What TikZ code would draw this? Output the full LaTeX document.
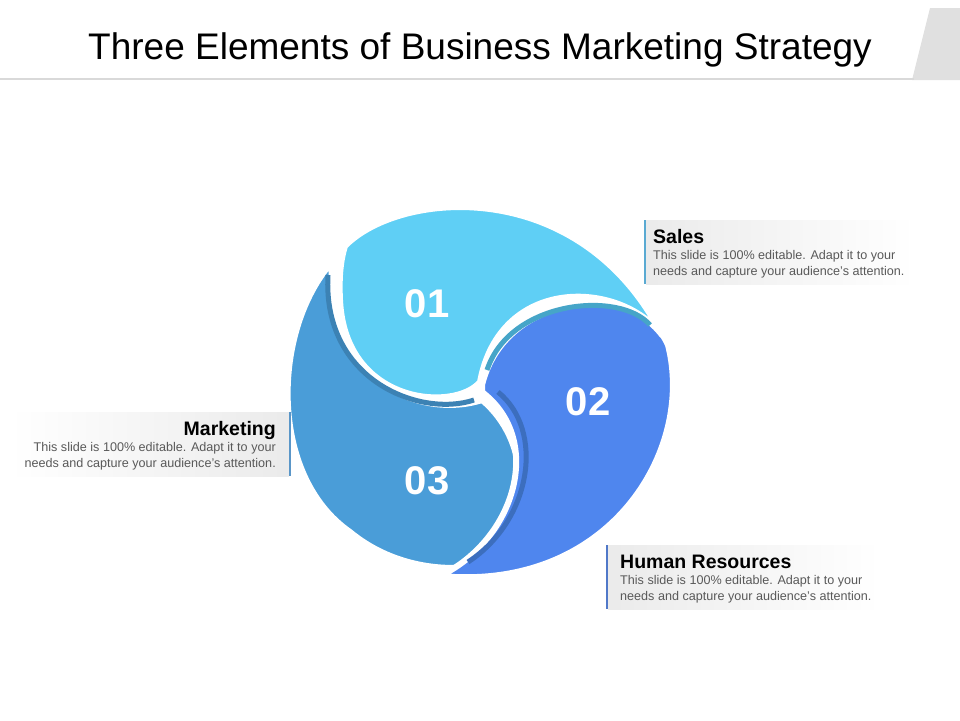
\documentclass[tikz,border=0pt]{standalone}
\usepackage{fontspec}
\setmainfont{Liberation Sans}
\definecolor{cA}{RGB}{95,207,245}
\definecolor{cB}{RGB}{79,134,238}
\definecolor{cC}{RGB}{74,157,216}
\definecolor{rA}{RGB}{70,165,200}
\definecolor{rB}{RGB}{60,110,190}
\definecolor{rC}{RGB}{60,130,180}
\definecolor{bA}{RGB}{90,170,210}
\definecolor{bC}{RGB}{90,150,200}
\definecolor{bB}{RGB}{80,120,200}
\begin{document}
\begin{tikzpicture}[x=1pt,y=-1pt,
  ttl/.style={font=\bfseries\fontsize{19.5}{21}\selectfont,text=black,inner sep=0},
  body/.style={font=\fontsize{12.6}{16}\selectfont,text=black!65,inner sep=0,align=left},
  num/.style={font=\bfseries\fontsize{40}{42}\selectfont,text=white,inner sep=0},
  gap/.style={draw=white,line width=6pt,line join=round}]
\useasboundingbox (0,0) rectangle (960,720);
\fill[white] (0,0) rectangle (960,720);
% header
\fill[black!12] (930,8) -- (960,8) -- (960,80) -- (912,80) -- cycle;
\draw[black!15,line width=2pt] (0,79) -- (914,79);
\node[font=\fontsize{37}{40}\selectfont,inner sep=0] (title) at (480,50) {Three Elements of Business Marketing Strategy};
% pieces
\path[fill=cC,gap] (332,262) .. controls (272,330) and (268,475) .. (350,532) .. controls (390,565) and (440,572) .. (478,566) .. controls (535,520) and (530,440) .. (482,400) .. controls (420,420) and (325,380) .. (332,262) -- cycle;
\path[fill=cB,gap] (482,385) .. controls (505,290) and (640,280) .. (668,345) .. controls (695,450) and (610,592) .. (440,576) .. controls (515,540) and (545,440) .. (482,392) -- cycle;
\path[fill=cA,gap] (345,246) .. controls (400,190) and (580,175) .. (662,335) .. controls (620,280) and (500,275) .. (480,382) .. controls (455,412) and (345,405) .. (340,300) .. controls (339,280) and (340,262) .. (345,246) -- cycle;
% inner rims
\draw[rA,line width=5pt] (487,370) .. controls (510,300) and (620,290) .. (650,325);
\draw[rB,line width=5pt] (498,392) .. controls (545,430) and (532,520) .. (468,562);
\draw[rC,line width=5pt] (328,275) .. controls (322,380) and (420,418) .. (474,400);
\node[num] (n1) at (427,304) {01};
\node[num] (n2) at (588,402) {02};
\node[num] (n3) at (427,481) {03};
% Sales
\shade[left color=black!8,right color=white] (646,220) rectangle (915,284);
\draw[bA,line width=1.5pt] (645,220) -- (645,284);
\node[ttl,anchor=west] (s) at (653,237) {Sales};
\node[body,anchor=north west] (st) at (653,250) {This slide is 100\% editable. Adapt it to your\\needs and capture your audience's attention.};
% Marketing
\shade[right color=black!8,left color=white] (10,412) rectangle (289,476);
\draw[bC,line width=1.5pt] (290,412) -- (290,476);
\node[ttl,anchor=east] (m) at (276,430) {Marketing};
\node[body,anchor=north east,align=right] (mt) at (276,442) {This slide is 100\% editable. Adapt it to your\\needs and capture your audience's attention.};
% HR
\shade[left color=black!8,right color=white] (608,545) rectangle (880,609);
\draw[bB,line width=1.5pt] (607,545) -- (607,609);
\node[ttl,anchor=west] (h) at (620,562) {Human Resources};
\node[body,anchor=north west] (ht) at (620,575) {This slide is 100\% editable. Adapt it to your\\needs and capture your audience's attention.};
\end{tikzpicture}
\end{document}
